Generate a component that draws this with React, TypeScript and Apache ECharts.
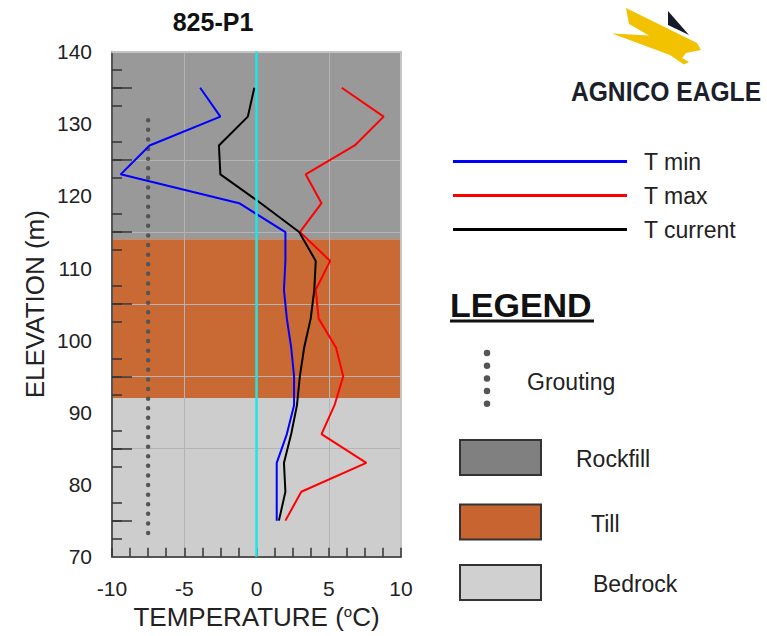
import React, { useEffect, useRef } from 'react';
import * as echarts from 'echarts';

// ---- data ----
const elevations = [135, 131, 127, 123, 119, 115, 111, 107, 103, 99, 95, 91, 87, 83, 79, 75];
const tMin = [-3.9, -2.5, -7.4, -9.4, -1.2, 2.0, 2.0, 1.9, 2.1, 2.4, 2.6, 2.6, 2.1, 1.4, 1.4, 1.4];
const tMax = [5.9, 8.8, 6.8, 3.4, 4.5, 3.0, 5.1, 4.1, 4.3, 5.5, 6.0, 5.4, 4.5, 7.6, 3.1, 2.0];
const tCurrent = [-0.15, -0.6, -2.6, -2.5, 0.3, 2.95, 4.1, 4.0, 3.75, 3.3, 3.0, 2.8, 2.4, 1.9, 2.0, 1.55];

const groutingTemp = [-7.5, -7.5];
const groutingElev = [130.5, 72];
const zeroTemp = [0, 0];
const zeroElev = [70, 140];

const layerNames = ['Rockfill', 'Till', 'Bedrock'];
const layerTop = [140, 114, 92];
const layerBottom = [114, 92, 70];
const layerColors = ['#999999', '#C96A35', '#CDCDCD'];
const layerLegendColors = ['#808080', '#C8642F', '#D0D0D0'];

const yLongTicks = [75, 85, 95, 105, 115, 125, 135];
const seriesNames = ['T min', 'T max', 'T current'];
const seriesColors = ['#0000FF', '#FF0000', '#000000'];

const FONT = '"Liberation Sans", Arial, Helvetica, sans-serif';
const GRID_COLOR = '#b4b4b4';

const pairs = (xs: number[], ys: number[]) => xs.map((x, i) => [x, ys[i]]);

export default function App() {
  const ref = useRef<HTMLDivElement>(null);

  useEffect(() => {
    if (!ref.current) return;
    const chart = echarts.init(ref.current, undefined, { renderer: 'svg' });

    const tempSeries = [tMin, tMax, tCurrent];

    const layerGraphics: any[] = [];
    const boxTops = [440, 504.5, 565];
    const textX = [576, 591, 593];
    layerNames.forEach((n, i) => {
      layerGraphics.push({
        type: 'rect',
        shape: { x: 460, y: boxTops[i], width: 81, height: 35 },
        style: { fill: layerLegendColors[i], stroke: '#333', lineWidth: 2 },
      });
      layerGraphics.push({
        type: 'text',
        x: textX[i],
        y: boxTops[i] + 19,
        style: { text: n, font: `23px ${FONT}`, fill: '#222', textAlign: 'left', textVerticalAlign: 'middle' },
      });
    });

    const option: any = {
      animation: false,
      textStyle: { fontFamily: FONT },
      title: {
        text: '825-P1',
        left: 213,
        top: 21.7,
        padding: 0,
        textAlign: 'center',
        textVerticalAlign: 'middle',
        textStyle: { fontSize: 25, fontWeight: 'bold', color: '#111', fontFamily: FONT },
      },
      legend: {
        data: seriesNames,
        orient: 'vertical',
        left: 453,
        top: 150,
        padding: 0,
        icon: 'rect',
        itemWidth: 174,
        itemHeight: 3,
        itemGap: 11,
        textStyle: { fontSize: 23, color: '#222', fontFamily: FONT, padding: [0, 0, 0, 12] },
        selectedMode: false,
      },
      grid: { left: 112, right: 366, top: 51.7, bottom: 79.3, containLabel: false, outerBoundsMode: 'none' },
      xAxis: [
        {
          type: 'value',
          position: 'bottom',
          min: -10,
          max: 10,
          interval: 5,
          z: 2,
          name: 'TEMPERATURE ({sup|o}C)',
          nameLocation: 'middle',
          nameGap: 46,
          nameTextStyle: {
            fontSize: 26,
            color: '#222',
            fontFamily: FONT,
            rich: { sup: { fontSize: 15, verticalAlign: 'top', color: '#222', fontFamily: FONT } },
          },
          axisLine: { show: true, onZero: false, lineStyle: { color: '#555', width: 2 } },
          axisTick: { show: true, inside: true, length: 9, lineStyle: { color: '#333', width: 1.5 } },
          minorTick: { show: true, splitNumber: 4, length: 9, lineStyle: { color: '#333', width: 1.5 } },
          axisLabel: { fontSize: 21, color: '#222', margin: 21, fontFamily: FONT },
          splitLine: { show: true, showMinLine: false, showMaxLine: false, lineStyle: { color: GRID_COLOR, width: 1 } },
        },
        {
          type: 'value',
          position: 'top',
          min: -10,
          max: 10,
          z: 2,
          axisLine: { show: true, onZero: false, lineStyle: { color: '#c4c4c4', width: 2 } },
          axisTick: { show: false },
          axisLabel: { show: false },
          splitLine: { show: false },
        },
      ],
      yAxis: [
        {
          type: 'value',
          position: 'left',
          min: 70,
          max: 140,
          interval: 10,
          z: 2,
          name: 'ELEVATION (m)',
          nameLocation: 'middle',
          nameRotate: 90,
          nameGap: 64,
          nameTextStyle: { fontSize: 26, color: '#222', fontFamily: FONT },
          axisLine: { show: true, onZero: false, lineStyle: { color: '#555', width: 2 } },
          axisTick: { show: true, inside: true, length: 20, customValues: yLongTicks, lineStyle: { color: '#333', width: 1.5 } },
          minorTick: { show: true, splitNumber: 4, length: 10, lineStyle: { color: '#333', width: 1.5 } },
          axisLabel: { fontSize: 21, color: '#222', margin: 20, fontFamily: FONT },
          splitLine: { show: true, showMinLine: false, showMaxLine: false, lineStyle: { color: GRID_COLOR, width: 1 } },
        },
        {
          type: 'value',
          position: 'right',
          min: 70,
          max: 140,
          z: 2,
          axisLine: { show: true, onZero: false, lineStyle: { color: '#c4c4c4', width: 2 } },
          axisTick: { show: false },
          axisLabel: { show: false },
          splitLine: { show: false },
        },
      ],
      series: [
        {
          name: 'Grouting',
          type: 'line',
          data: pairs(groutingTemp, groutingElev),
          symbol: 'none',
          silent: true,
          z: 3,
          lineStyle: { color: '#555', width: 4.5, type: [0, 9.6], cap: 'round' },
        },
        ...seriesNames.map((n, i) => ({
          name: n,
          type: 'line',
          data: pairs(tempSeries[i], elevations),
          symbol: 'none',
          silent: true,
          z: 3,
          color: seriesColors[i],
          lineStyle: { color: seriesColors[i], width: 2 },
        })),
        {
          name: 'Zero',
          type: 'line',
          data: pairs(zeroTemp, zeroElev),
          symbol: 'none',
          silent: true,
          z: 4,
          lineStyle: { color: '#1EE6E6', width: 2.5 },
          markArea: {
            silent: true,
            z: 1,
            data: layerNames.map((n, i) => [
              { name: n, xAxis: -10, yAxis: layerTop[i], itemStyle: { color: layerColors[i] } },
              { xAxis: 10, yAxis: layerBottom[i] },
            ]),
            label: { show: false },
          },
        },
      ],
      graphic: [
        // logo
        {
          type: 'polygon',
          shape: {
            points: [
              [626, 8], [697, 43], [701, 50], [686, 53], [682, 58], [689, 62],
              [684, 64.5], [678, 60.5], [670, 55], [612, 33.5], [649, 35.5], [629, 24],
            ],
          },
          style: { fill: '#F2C200' },
        },
        {
          type: 'polygon',
          shape: { points: [[668, 11], [689, 35], [668, 25]] },
          style: { fill: '#141A26' },
        },
        {
          type: 'text',
          x: 666,
          y: 91,
          scaleX: 0.88,
          style: {
            text: 'AGNICO EAGLE',
            font: `bold 28px ${FONT}`,
            fill: '#1B1F2A',
            textAlign: 'center',
            textVerticalAlign: 'middle',
          },
        },
        // LEGEND heading
        {
          type: 'text',
          x: 450,
          y: 305,
          style: { text: 'LEGEND', font: `bold 34px ${FONT}`, fill: '#111', textAlign: 'left', textVerticalAlign: 'middle' },
        },
        { type: 'rect', shape: { x: 450, y: 319.5, width: 144, height: 3 }, style: { fill: '#111' } },
        {
          type: 'line',
          shape: { x1: 487, y1: 353, x2: 487, y2: 405 },
          style: { stroke: '#555', lineWidth: 6.5, lineDash: [0, 12.7], lineCap: 'round' },
        },
        {
          type: 'text',
          x: 527,
          y: 381.5,
          style: { text: 'Grouting', font: `23px ${FONT}`, fill: '#222', textAlign: 'left', textVerticalAlign: 'middle' },
        },
        ...layerGraphics,
      ],
    };

    chart.setOption(option);
    return () => chart.dispose();
  }, []);

  return (
    <div
      ref={ref}
      style={{ position: 'absolute', left: 0, top: 0, width: 767, height: 636, background: '#fff' }}
    />
  );
}
